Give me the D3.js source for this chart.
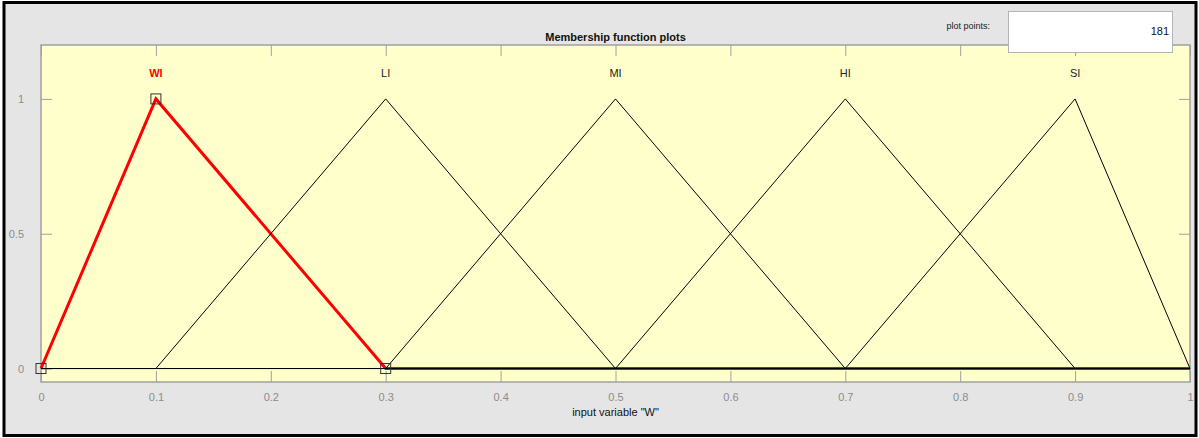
<!DOCTYPE html>
<html>
<head>
<meta charset="utf-8">
<script src="https://cdn.jsdelivr.net/npm/d3@7"></script>
<style>
  body { margin: 0; background: #ffffff; }
  svg { display: block; font-family: "Liberation Sans", Arial, sans-serif; }
</style>
</head>
<body>
<div id="chart"></div>
<script>
// membership functions of input variable "W" (triangular: a, b, c)
const mfNames = ["WI", "LI", "MI", "HI", "SI"];
const mfParams = [
    [0, 0.1, 0.3],
    [0.1, 0.3, 0.5],
    [0.3, 0.5, 0.7],
    [0.5, 0.7, 0.9],
    [0.7, 0.9, 1.0]
];
const selectedMf = 0;
const xTicks = [0, 0.1, 0.2, 0.3, 0.4, 0.5, 0.6, 0.7, 0.8, 0.9, 1];
const yTicks = [0, 0.5, 1];
const plotPoints = 181;

function drawMfPlot(container) {
    const W = 1199, H = 438;
    const margin = { top: 45, right: 9, bottom: 56, left: 41 };
    const width = W - margin.left - margin.right;
    const height = H - margin.top - margin.bottom;

    const root = d3.select(container)
        .append("svg")
        .attr("width", W)
        .attr("height", H);

    // figure background and frame
    root.append("rect")
        .attr("x", 4).attr("y", 2.5)
        .attr("width", 1192).attr("height", 433)
        .attr("fill", "#e5e5e5")
        .attr("stroke", "#000")
        .attr("stroke-width", 3);

    const svg = root.append("g")
        .attr("transform", `translate(${margin.left},${margin.top})`);

    const x = d3.scaleLinear().domain([0, 1]).range([0, width]);
    const y = d3.scaleLinear().domain([-0.05, 1.2]).range([height, 0]);

    svg.append("rect")
        .attr("width", width)
        .attr("height", height)
        .attr("fill", "#ffffcc");

    // axes, ticks pointing inward, mirrored on the far sides
    const tickCol = "#a0a0a0";
    const styleAxis = g => {
        g.select(".domain").remove();
        g.selectAll(".tick line").attr("stroke", tickCol);
        g.selectAll(".tick text").attr("fill", "#8c8c8c").style("font-size", "11px");
    };
    svg.append("g")
        .attr("transform", `translate(0,${height})`)
        .call(d3.axisBottom(x).tickValues(xTicks).tickSizeInner(-11).tickPadding(11).tickFormat(d3.format("")))
        .call(styleAxis);
    svg.append("g")
        .call(d3.axisTop(x).tickValues(xTicks).tickSizeInner(-11).tickFormat(""))
        .call(styleAxis);
    svg.append("g")
        .call(d3.axisLeft(y).tickValues(yTicks).tickSizeInner(-11).tickPadding(17).tickFormat(d3.format("")))
        .call(styleAxis);
    svg.append("g")
        .attr("transform", `translate(${width},0)`)
        .call(d3.axisRight(y).tickValues(yTicks).tickSizeInner(-11).tickFormat(""))
        .call(styleAxis);

    svg.append("rect")
        .attr("width", width)
        .attr("height", height)
        .attr("fill", "none")
        .attr("stroke", tickCol)
        .attr("stroke-width", 1.5);

    const line = d3.line()
        .x(d => x(d[0]))
        .y(d => y(d[1]));

    const mfPoints = p => [[0, 0], [p[0], 0], [p[1], 1], [p[2], 0], [1, 0]];

    // selected function first (thick red), others drawn on top
    svg.append("path")
        .datum(mfPoints(mfParams[selectedMf]))
        .attr("fill", "none")
        .attr("stroke", "#ff0000")
        .attr("stroke-width", 3)
        .attr("d", line);

    mfParams.forEach((p, i) => {
        if (i === selectedMf) return;
        svg.append("path")
            .datum(mfPoints(p))
            .attr("fill", "none")
            .attr("stroke", "#000")
            .attr("stroke-width", 1)
            .attr("d", line);
    });

    // markers on the selected function's parameters
    const sp = mfParams[selectedMf];
    svg.selectAll("rect.marker")
        .data([[sp[0], 0], [sp[1], 1], [sp[2], 0]])
        .enter().append("rect")
        .attr("class", "marker")
        .attr("x", d => x(d[0]) - 5)
        .attr("y", d => y(d[1]) - 5)
        .attr("width", 10)
        .attr("height", 10)
        .attr("fill", "none")
        .attr("stroke", "#333")
        .attr("stroke-width", 1);

    // function names above the peaks
    svg.selectAll("text.mfname")
        .data(mfNames)
        .enter().append("text")
        .attr("class", "mfname")
        .attr("x", (d, i) => x(mfParams[i][1]))
        .attr("y", y(1) - 22)
        .attr("text-anchor", "middle")
        .style("font-size", "11px")
        .style("font-weight", (d, i) => i === selectedMf ? "bold" : "normal")
        .attr("fill", (d, i) => i === selectedMf ? "#ff0000" : "#222")
        .text(d => d);

    // title and x label
    svg.append("text")
        .attr("x", width / 2)
        .attr("y", -4)
        .attr("text-anchor", "middle")
        .style("font-size", "11px")
        .style("font-weight", "bold")
        .attr("fill", "#111")
        .text("Membership function plots");

    svg.append("text")
        .attr("x", width / 2)
        .attr("y", height + 34)
        .attr("text-anchor", "middle")
        .style("font-size", "11px")
        .attr("fill", "#111")
        .text('input variable "W"');

    // plot points box
    root.append("text")
        .attr("x", 990)
        .attr("y", 29)
        .attr("text-anchor", "end")
        .style("font-size", "9px")
        .attr("fill", "#222")
        .text("plot points:");

    root.append("rect")
        .attr("x", 1008.5).attr("y", 11.5)
        .attr("width", 164).attr("height", 41)
        .attr("fill", "#fff")
        .attr("stroke", "#b4b4b4");

    root.append("text")
        .attr("x", 1169)
        .attr("y", 35)
        .attr("text-anchor", "end")
        .style("font-size", "11px")
        .attr("fill", "#111")
        .text(plotPoints);
}

drawMfPlot(document.getElementById("chart"));
</script>
</body>
</html>
